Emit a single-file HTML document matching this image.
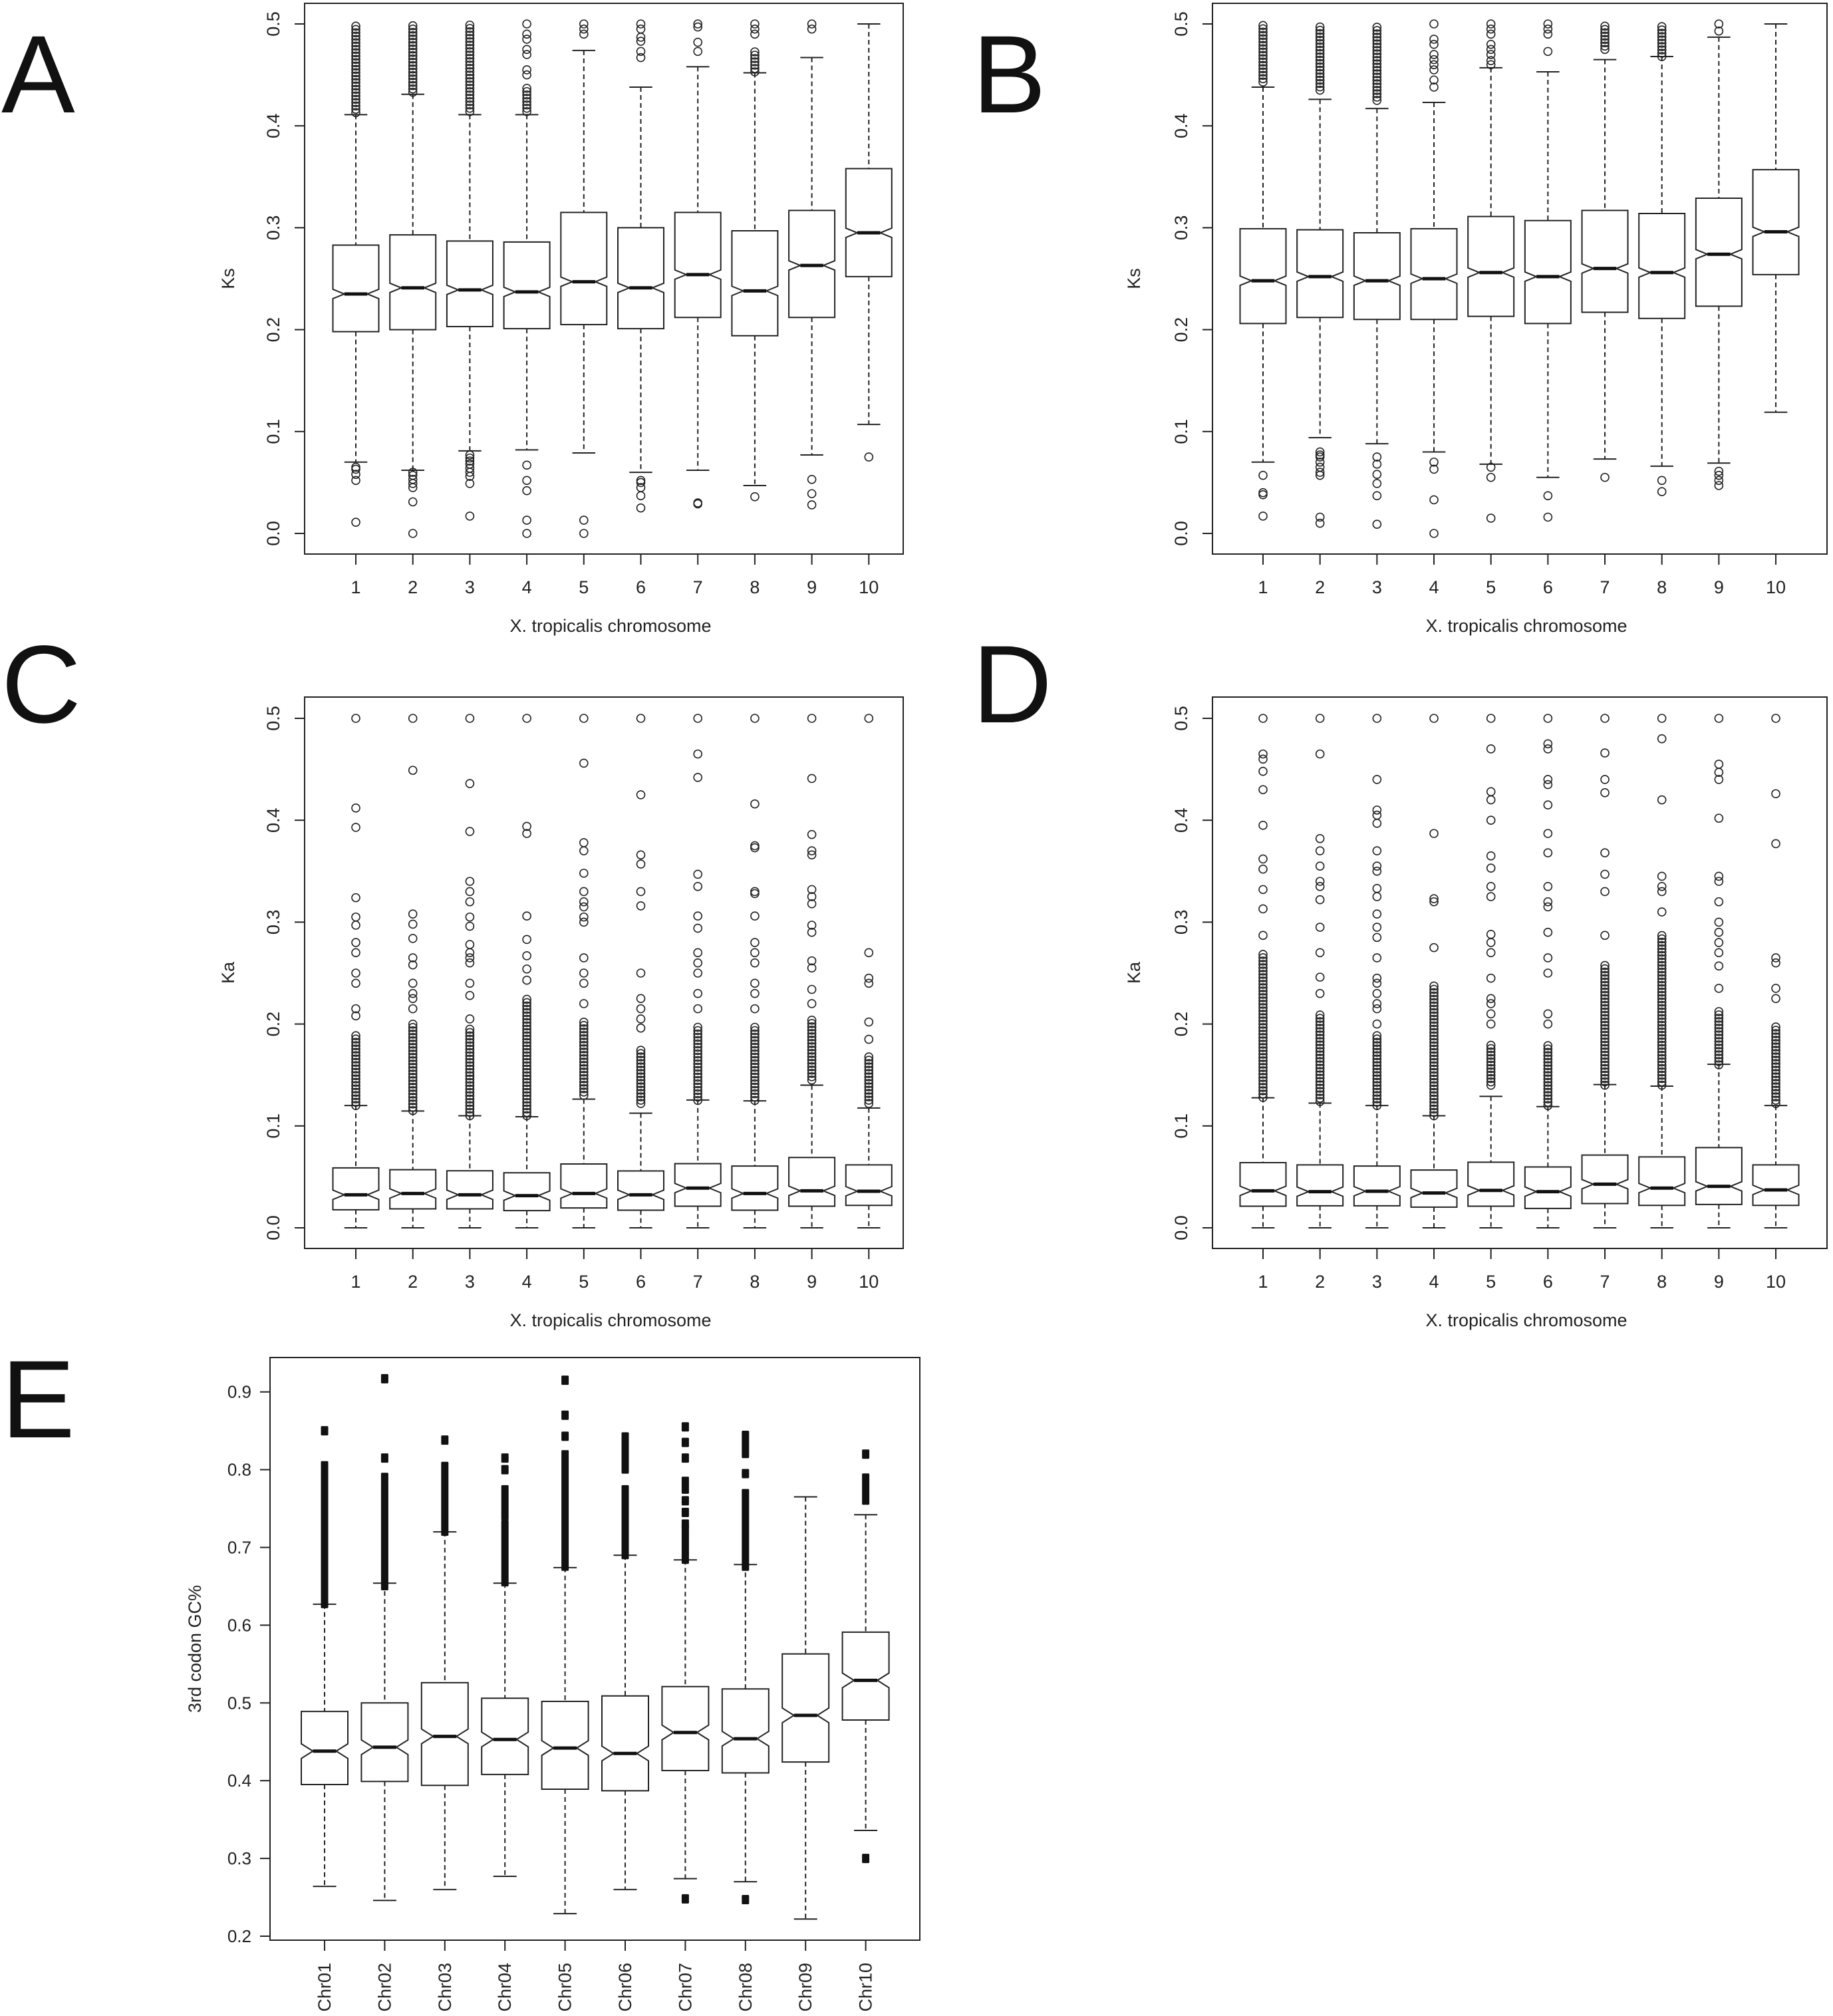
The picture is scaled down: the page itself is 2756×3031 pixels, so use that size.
<!DOCTYPE html>
<html><head><meta charset="utf-8"><style>
html,body{margin:0;padding:0;background:#fff;}
svg{display:block;font-family:"Liberation Sans",Arial,sans-serif;}
</style></head><body>
<svg id="fig" width="2756" height="3031" viewBox="0 0 2756 3031" xmlns="http://www.w3.org/2000/svg">
<rect x="0" y="0" width="2756" height="3031" fill="#fff"/>
<text x="2" y="169" font-size="166" fill="#111">A</text>
<text x="1462" y="169" font-size="166" fill="#111">B</text>
<text x="2" y="1086" font-size="166" fill="#111">C</text>
<text x="1462" y="1086" font-size="166" fill="#111">D</text>
<text x="2" y="2161" font-size="166" fill="#111">E</text>
</svg>
<script>
// ---- data: Panel A (Ks) ----
const chromCats = ["1","2","3","4","5","6","7","8","9","10"];
const kTicks = [0.0,0.1,0.2,0.3,0.4,0.5];
const kTickLabels = ["0.0","0.1","0.2","0.3","0.4","0.5"];
const A_lo  = [0.070,0.062,0.081,0.082,0.079,0.060,0.062,0.047,0.077,0.107];
const A_q1  = [0.198,0.200,0.203,0.201,0.205,0.201,0.212,0.194,0.212,0.252];
const A_med = [0.235,0.241,0.239,0.237,0.247,0.241,0.254,0.238,0.263,0.295];
const A_q3  = [0.283,0.293,0.287,0.286,0.315,0.300,0.315,0.297,0.317,0.358];
const A_hi  = [0.411,0.431,0.411,0.411,0.474,0.438,0.458,0.452,0.467,0.500];
const A_dense = [[0.413,0.500],[0.433,0.500],[0.414,0.500],[0.414,0.437],null,null,null,[0.453,0.475],null,null];
const A_out = [[0.065,0.063,0.058,0.052,0.011],[0.060,0.057,0.053,0.049,0.045,0.031,0.0],[0.077,0.074,0.071,0.068,0.064,0.060,0.056,0.049,0.017],[0.45,0.455,0.47,0.475,0.485,0.49,0.5,0.067,0.052,0.042,0.013,0.0],[0.49,0.495,0.5,0.013,0.0],[0.467,0.473,0.483,0.487,0.495,0.5,0.052,0.05,0.045,0.037,0.025],[0.473,0.482,0.497,0.5,0.03,0.029],[0.49,0.495,0.5,0.036],[0.495,0.5,0.053,0.039,0.028],[0.075]];
// ---- Panel B (Ks) ----
const B_lo  = [0.070,0.094,0.088,0.080,0.068,0.055,0.073,0.066,0.069,0.119];
const B_q1  = [0.206,0.212,0.210,0.210,0.213,0.206,0.217,0.211,0.223,0.254];
const B_med = [0.248,0.252,0.248,0.250,0.256,0.252,0.260,0.256,0.274,0.296];
const B_q3  = [0.299,0.298,0.295,0.299,0.311,0.307,0.317,0.314,0.329,0.357];
const B_hi  = [0.438,0.426,0.417,0.423,0.457,0.453,0.465,0.468,0.487,0.500];
const B_dense = [[0.443,0.500],[0.435,0.500],[0.425,0.500],null,null,null,[0.475,0.500],[0.468,0.500],null,null];
const B_out = [[0.057,0.040,0.038,0.017],[0.080,0.077,0.075,0.070,0.065,0.060,0.057,0.016,0.010],[0.075,0.068,0.058,0.049,0.037,0.009],[0.438,0.445,0.455,0.46,0.465,0.47,0.48,0.485,0.5,0.070,0.063,0.033,0.0],[0.46,0.464,0.47,0.475,0.48,0.49,0.495,0.5,0.065,0.055,0.015],[0.473,0.49,0.495,0.5,0.037,0.016],[0.055],[0.052,0.041],[0.493,0.5,0.061,0.057,0.052,0.047],[]];
// ---- Panel C (Ka) ----
const C_lo  = [0,0,0,0,0,0,0,0,0,0];
const C_q1  = [0.0177,0.0186,0.0186,0.0169,0.0195,0.0173,0.0212,0.0173,0.0212,0.0220];
const C_med = [0.0324,0.0337,0.0324,0.0316,0.0337,0.0324,0.0390,0.0337,0.0363,0.0359];
const C_q3  = [0.0588,0.0570,0.0560,0.0540,0.0627,0.0558,0.0630,0.0606,0.0690,0.0618];
const C_hi  = [0.120,0.1146,0.110,0.109,0.1263,0.1125,0.1254,0.1246,0.140,0.1176];
const C_dense = [[0.12,0.19],[0.115,0.20],[0.11,0.195],[0.11,0.225],[0.13,0.205],[0.122,0.175],[0.125,0.20],[0.125,0.20],[0.145,0.205],[0.122,0.17]];
const C_out = [[0.208,0.215,0.24,0.25,0.27,0.28,0.297,0.305,0.324,0.393,0.412,0.5],[0.215,0.225,0.23,0.24,0.258,0.265,0.284,0.298,0.308,0.449,0.5],[0.205,0.228,0.24,0.26,0.265,0.27,0.278,0.296,0.305,0.32,0.33,0.34,0.389,0.436,0.5],[0.243,0.254,0.267,0.283,0.306,0.387,0.394,0.5],[0.22,0.24,0.25,0.265,0.3,0.305,0.315,0.32,0.33,0.348,0.37,0.378,0.456,0.5],[0.196,0.205,0.215,0.225,0.25,0.316,0.33,0.357,0.366,0.425,0.5],[0.215,0.23,0.25,0.26,0.27,0.294,0.306,0.335,0.347,0.442,0.465,0.5],[0.215,0.23,0.24,0.26,0.27,0.28,0.306,0.328,0.33,0.373,0.375,0.416,0.5],[0.22,0.234,0.255,0.262,0.29,0.297,0.318,0.325,0.332,0.366,0.37,0.386,0.441,0.5],[0.185,0.202,0.24,0.245,0.27,0.5]];
// ---- Panel D (Ka) ----
const D_lo  = [0,0,0,0,0,0,0,0,0,0];
const D_q1  = [0.0212,0.0216,0.0216,0.0203,0.0212,0.0190,0.0238,0.0220,0.0229,0.0220];
const D_med = [0.0363,0.0355,0.0359,0.0342,0.0367,0.0355,0.0428,0.0390,0.0407,0.0372];
const D_q3  = [0.0640,0.0618,0.0606,0.0567,0.0644,0.0597,0.0714,0.0696,0.0787,0.0618];
const D_hi  = [0.1276,0.1224,0.120,0.110,0.129,0.119,0.1406,0.139,0.1605,0.120];
const D_dense = [[0.128,0.27],[0.124,0.21],[0.12,0.19],[0.11,0.24],[0.14,0.18],[0.12,0.18],[0.14,0.26],[0.14,0.29],[0.16,0.215],[0.122,0.20]];
const D_out = [[0.287,0.313,0.332,0.352,0.362,0.395,0.43,0.448,0.46,0.465,0.5],[0.23,0.246,0.27,0.295,0.322,0.335,0.34,0.355,0.37,0.382,0.465,0.5],[0.2,0.215,0.22,0.23,0.24,0.245,0.265,0.285,0.295,0.308,0.325,0.333,0.35,0.355,0.37,0.397,0.405,0.41,0.44,0.5],[0.275,0.32,0.323,0.387,0.5],[0.2,0.21,0.22,0.225,0.245,0.27,0.28,0.288,0.325,0.335,0.353,0.365,0.4,0.42,0.428,0.47,0.5],[0.2,0.21,0.25,0.265,0.29,0.315,0.32,0.335,0.368,0.387,0.415,0.435,0.44,0.47,0.475,0.5],[0.287,0.33,0.347,0.368,0.427,0.44,0.466,0.5],[0.31,0.33,0.335,0.345,0.42,0.48,0.5],[0.235,0.257,0.27,0.28,0.29,0.3,0.32,0.34,0.345,0.402,0.44,0.447,0.455,0.5],[0.225,0.235,0.26,0.265,0.377,0.426,0.5]];
// ---- Panel E (3rd codon GC%) ----
const E_cats = ["Chr01","Chr02","Chr03","Chr04","Chr05","Chr06","Chr07","Chr08","Chr09","Chr10"];
const eTicks = [0.2,0.3,0.4,0.5,0.6,0.7,0.8,0.9];
const eTickLabels = ["0.2","0.3","0.4","0.5","0.6","0.7","0.8","0.9"];
const E_lo  = [0.264,0.246,0.260,0.277,0.229,0.260,0.274,0.270,0.222,0.336];
const E_q1  = [0.395,0.399,0.394,0.408,0.389,0.387,0.413,0.410,0.424,0.478];
const E_med = [0.438,0.443,0.457,0.453,0.442,0.435,0.462,0.454,0.484,0.529];
const E_q3  = [0.489,0.500,0.526,0.506,0.502,0.509,0.521,0.518,0.563,0.591];
const E_hi  = [0.627,0.654,0.720,0.654,0.674,0.690,0.684,0.678,0.765,0.742];
const E_dense = [[[0.627,0.795]],[[0.650,0.780]],[[0.720,0.805]],[[0.655,0.730],[0.740,0.775]],[[0.675,0.820]],[[0.690,0.775],[0.800,0.843]],[[0.684,0.725]],[[0.675,0.770],[0.820,0.845]],[],[[0.760,0.790]]];
const E_out = [[0.805,0.850],[0.790,0.815,0.917],[0.838],[0.800,0.815],[0.843,0.870,0.915],[],[0.730,0.745,0.760,0.775,0.785,0.815,0.835,0.855,0.248],[0.795,0.247],[],[0.820,0.300]];

const NS = "http://www.w3.org/2000/svg";
const svg = document.getElementById("fig");
function mk(tag, attrs, parent, text) {
  const e = document.createElementNS(NS, tag);
  for (const k in attrs) e.setAttribute(k, attrs[k]);
  if (text !== undefined) e.textContent = text;
  (parent || svg).appendChild(e);
  return e;
}

function drawPanel(p) {
  const g = mk("g", {});
  
  
  const yS = v => p.y0 - (v - p.vmin) * p.ppu;
  const xS = i => p.x0 + i * p.step;
  const frame = mk("rect", {x:p.bx0, y:p.by0, width:p.bx1-p.bx0, height:p.by1-p.by0, fill:"none", stroke:"#222", "stroke-width":2}, g);
  
  
  p.ticks.forEach((t, k) => {
    const y = yS(t);
    const tk = mk("line", {x1:p.bx0-15, x2:p.bx0, y1:y, y2:y, stroke:"#222", "stroke-width":2}, g);
    
    
    let lb;
    if (p.rotY) {
      lb = mk("text", {x:p.bx0-38, y:y, "font-size":27, "text-anchor":"middle", transform:`rotate(-90 ${p.bx0-38} ${y})`, fill:"#222"}, g, p.tickLabels[k]);
    } else {
      lb = mk("text", {x:p.bx0-28, y:y+9, "font-size":26, "text-anchor":"end", fill:"#222"}, g, p.tickLabels[k]);
    }
    
    
  });
  const yl = mk("text", {x:p.ylx, y:(p.by0+p.by1)/2, "font-size":27, "text-anchor":"middle", transform:`rotate(-90 ${p.ylx} ${(p.by0+p.by1)/2})`, fill:"#222"}, g, p.ylabel);
  
  
  p.cats.forEach((c, i) => {
    const x = xS(i);
    const tk = mk("line", {x1:x, x2:x, y1:p.by1, y2:p.by1+16, stroke:"#222", "stroke-width":2}, g);
    
    
    let lb;
    if (p.rotX) {
      lb = mk("text", {x:x+9, y:p.by1+34, "font-size":27, "text-anchor":"end", transform:`rotate(-90 ${x+9} ${p.by1+34})`, fill:"#222"}, g, c);
    } else {
      lb = mk("text", {x:x, y:p.by1+59, "font-size":27, "text-anchor":"middle", fill:"#222"}, g, c);
    }
    
    
  });
  if (p.xlabel) {
    const xl = mk("text", {x:(p.bx0+p.bx1)/2+10, y:p.by1+117, "font-size":27, "text-anchor":"middle", fill:"#222"}, g, p.xlabel);
    
    
  }
  p.cats.forEach((c, i) => {
    const x = xS(i), hw = p.bw/2, nw = p.bw/4, cw = p.bw/4;
    const bg = mk("g", {}, g);
    
    
    const yq1 = yS(p.q1[i]), yq3 = yS(p.q3[i]), ym = yS(p.med[i]);
    const yl_ = yS(p.lo[i]), yh = yS(p.hi[i]);
    const nt = Math.max(ym - p.notch, yq3), nb = Math.min(ym + p.notch, yq1);
    const wu = mk("line", {x1:x, x2:x, y1:yh, y2:yq3, stroke:"#222", "stroke-width":2, "stroke-dasharray":"7,5"}, bg);
    
    
    const wl = mk("line", {x1:x, x2:x, y1:yq1, y2:yl_, stroke:"#222", "stroke-width":2, "stroke-dasharray":"7,5"}, bg);
    
    
    const cu = mk("line", {x1:x-cw, x2:x+cw, y1:yh, y2:yh, stroke:"#222", "stroke-width":2}, bg);
    
    
    const cl = mk("line", {x1:x-cw, x2:x+cw, y1:yl_, y2:yl_, stroke:"#222", "stroke-width":2}, bg);
    
    
    const d = `M${x-hw},${yq3} L${x+hw},${yq3} L${x+hw},${nt} L${x+hw-nw},${ym} L${x+hw},${nb} L${x+hw},${yq1} L${x-hw},${yq1} L${x-hw},${nb} L${x-hw+nw},${ym} L${x-hw},${nt} Z`;
    const bx = mk("path", {d:d, fill:"#fff", stroke:"#222", "stroke-width":2, "stroke-linejoin":"miter"}, bg);
    
    
    const md = mk("line", {x1:x-hw+nw, x2:x+hw-nw, y1:ym, y2:ym, stroke:"#111", "stroke-width":5}, bg);
    
    
    if (p.squares) {
      (p.dense[i] || []).forEach(b => {
        const r = mk("rect", {x:x-5.5, y:yS(b[1])-6, width:11, height:yS(b[0])-yS(b[1])+12, rx:1.5, fill:"#111"}, bg);
        
        
      });
      p.out[i].forEach(v => {
        const r = mk("rect", {x:x-5.5, y:yS(v)-7, width:11, height:14, rx:1.5, fill:"#111"}, bg);
        
        
      });
    } else {
      const dn = p.dense[i];
      if (dn) {
        for (let yy = yS(dn[0]); yy >= yS(dn[1]); yy -= 5) {
          const cc = mk("circle", {cx:x, cy:yy, r:6, fill:"none", stroke:"#222", "stroke-width":1.6}, bg);
          
          
        }
      }
      p.out[i].forEach(v => {
        const cc = mk("circle", {cx:x, cy:yS(v), r:6, fill:"none", stroke:"#222", "stroke-width":1.6}, bg);
        
        
      });
    }
  });
}

const xl = "X. tropicalis chromosome";
drawPanel({name:"panel-a-ks", bx0:458, by0:5, bx1:1358, by1:833, x0:535, step:85.7, bw:69, y0:802, vmin:0, ppu:1532, notch:7, rotY:true, rotX:false,
  ticks:kTicks, tickLabels:kTickLabels, cats:chromCats, ylabel:"Ks", ylx:352, xlabel:xl,
  lo:A_lo, q1:A_q1, med:A_med, q3:A_q3, hi:A_hi, dense:A_dense, out:A_out});
drawPanel({name:"panel-b-ks", bx0:1823, by0:5, bx1:2747, by1:833, x0:1899, step:85.67, bw:69, y0:802, vmin:0, ppu:1532, notch:7, rotY:true, rotX:false,
  ticks:kTicks, tickLabels:kTickLabels, cats:chromCats, ylabel:"Ks", ylx:1714, xlabel:xl,
  lo:B_lo, q1:B_q1, med:B_med, q3:B_q3, hi:B_hi, dense:B_dense, out:B_out});
drawPanel({name:"panel-c-ka", bx0:458, by0:1048, bx1:1358, by1:1877, x0:535, step:85.7, bw:69, y0:1846, vmin:0, ppu:1532, notch:7, rotY:true, rotX:false,
  ticks:kTicks, tickLabels:kTickLabels, cats:chromCats, ylabel:"Ka", ylx:352, xlabel:xl,
  lo:C_lo, q1:C_q1, med:C_med, q3:C_q3, hi:C_hi, dense:C_dense, out:C_out});
drawPanel({name:"panel-d-ka", bx0:1823, by0:1048, bx1:2747, by1:1877, x0:1899, step:85.67, bw:69, y0:1846, vmin:0, ppu:1532, notch:7, rotY:true, rotX:false,
  ticks:kTicks, tickLabels:kTickLabels, cats:chromCats, ylabel:"Ka", ylx:1714, xlabel:xl,
  lo:D_lo, q1:D_q1, med:D_med, q3:D_q3, hi:D_hi, dense:D_dense, out:D_out});
drawPanel({name:"panel-e-gc3", bx0:406, by0:2041, bx1:1383, by1:2917, x0:488, step:90.4, bw:70, y0:2911, vmin:0.2, ppu:1169, notch:11, rotY:false, rotX:true, squares:true,
  ticks:eTicks, tickLabels:eTickLabels, cats:E_cats, ylabel:"3rd codon GC%", ylx:302, xlabel:null,
  lo:E_lo, q1:E_q1, med:E_med, q3:E_q3, hi:E_hi, dense:E_dense, out:E_out});
</script>
</body></html>
